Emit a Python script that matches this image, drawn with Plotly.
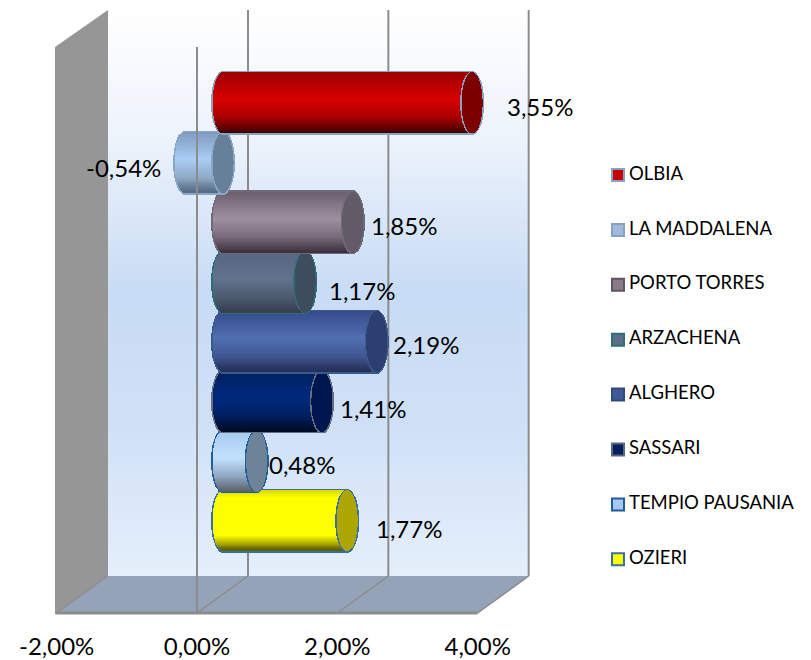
import numpy as np
import plotly.graph_objects as go

# ---------- data ----------
categories = ["OLBIA", "LA MADDALENA", "PORTO TORRES", "ARZACHENA",
              "ALGHERO", "SASSARI", "TEMPIO PAUSANIA", "OZIERI"]
values = [3.55, -0.54, 1.85, 1.17, 2.19, 1.41, 0.48, 1.77]
value_labels = ["3,55%", "-0,54%", "1,85%", "1,17%", "2,19%", "1,41%", "0,48%", "1,77%"]
axis_ticks = [-2, 0, 2, 4]
axis_tick_labels = ["-2,00%", "0,00%", "2,00%", "4,00%"]

# ---------- styles ----------
# gradient stops across each cylinder, top -> centre -> lower -> bottom
body_top = ["#9c0000", "#7f9cc0", "#6c6070", "#566680", "#364c8c", "#01215f", "#a4caf2", "#d8d800"]
body_mid = ["#da0000", "#a9cdf4", "#9f8fa0", "#62738f", "#5170b2", "#002a7e", "#c2e2ff", "#ffff00"]
body_low = ["#a80000", "#8fabc8", "#7a6c7c", "#4e5c72", "#3f5791", "#001f60", "#94aac4", "#ffff00"]
body_bot = ["#3c0000", "#566a84", "#3c323e", "#353f4e", "#252f58", "#000a26", "#5a6470", "#5c5c00"]
cap_fill = ["#7c0000", "#66809a", "#625a66", "#3d4d5e", "#2d3f70", "#001650", "#6e8298", "#aca600"]
edge_col = ["#8aa2c2", "#8aa6c6", "#6f6a78", "#2f7077", "#3b5a8c", "#666f80", "#1f5f9f", "#3a6da0"]
leg_fill = ["#c40000", "#9dbbdc", "#8a7a8a", "#5d6d8c", "#3f5a9c", "#00205f", "#a6c8ec", "#ffff00"]
leg_edge = ["#8aa0c0", "#8aa0bf", "#5f5560", "#2f6f76", "#304a7a", "#5a6678", "#1f5c9c", "#3b6ea5"]
label_dx = [68, -62, 51, 57, 49, 51, 45, 62]
label_dy = [-3, -5, -3, -8, -3, -7, -3, -8]
wall_stops = [(10, "#ffffff"), (130, "#eef4fc"), (290, "#c8dcf5"), (420, "#d0e1f7"), (576, "#e6f0fc")]

# ---------- geometry ----------
W, H = 811, 660
AXIS_Y = 614
X0, SCALE = 197.0, 70.17     # pixel of 0 %, pixels per 1 %
BAR_SHIFT = 26               # depth position of cylinders
BACK_DX, BACK_Y, TOP_F, TOP_B = 51, 576, 47, 10
FIRST_Y, PITCH = 103, 59.7
HALF_H = 30 / PITCH
RX = 10.5 / SCALE
EDGE = 1.5
FONT = "Lato"


def hex2rgb(c):
    return np.array([int(c[i:i + 2], 16) for i in (1, 3, 5)], float)


def mix(stops, pos):
    for (p0, c0), (p1, c1) in zip(stops[:-1], stops[1:]):
        if pos <= p1:
            f = (pos - p0) / (p1 - p0)
            r = hex2rgb(c0) * (1 - f) + hex2rgb(c1) * f
            return "rgb(%d,%d,%d)" % tuple(r)
    return stops[-1][1]


def px(x):
    return x / W


def py(y):
    return (AXIS_Y - y) / AXIS_Y


def poly(points, fill):
    d = "M" + " L".join(f"{px(a):.5f},{py(b):.5f}" for a, b in points) + " Z"
    return dict(type="path", path=d, xref="paper", yref="paper", fillcolor=fill,
                line=dict(width=0), layer="below")


GRID = "#8c8c8c"
shapes = []
# back wall gradient
ys = np.arange(TOP_B, BACK_Y, 6)
for y in ys:
    shapes.append(dict(type="rect", xref="paper", yref="paper", x0=px(108), x1=px(529),
                       y0=py(y), y1=py(min(y + 7, BACK_Y)),
                       fillcolor=mix(wall_stops, y), line=dict(width=0), layer="below"))
# left wall and floor
shapes.append(poly([(55, TOP_F), (108, TOP_B), (108, BACK_Y), (55, 614)], "#969696"))
shapes.append(poly([(57, 613), (108, BACK_Y), (529, BACK_Y), (478, 613)], "#94a3b8"))
# back gridlines + floor diagonals, tied to axis ticks
for t in axis_ticks:
    xb = t + BACK_DX / SCALE
    if t > -2:
        shapes.append(dict(type="line", xref="x", yref="paper", x0=xb, x1=xb,
                           y0=py(TOP_B), y1=py(BACK_Y), line=dict(color=GRID, width=2),
                           layer="below"))
    shapes.append(dict(type="line", xref="x", yref="paper", x0=t, x1=xb,
                       y0=py(613), y1=py(BACK_Y), line=dict(color=GRID, width=1.5),
                       layer="below"))
# front floor edge
shapes.append(dict(type="line", xref="x", yref="paper", x0=-2.02, x1=4, y0=py(613), y1=py(613),
                   line=dict(color=GRID, width=3), layer="below"))
# front zero line drawn above the cylinders
shapes.append(dict(type="line", xref="x", yref="paper", x0=0, x1=0, y0=py(TOP_F), y1=py(613),
                   line=dict(color=GRID, width=2), layer="above"))

fig = go.Figure()

N = 62
ts = (np.arange(N) + 0.5) / N * 2 - 1
slice_w = 2 * HALF_H / N * 1.12
edge_y = EDGE / PITCH
edge_x = EDGE / SCALE

# cylinders: upper ones overlap lower ones, so draw from last to first
for i in reversed(range(len(values))):
    v = values[i]
    lo, hi = min(0, v), max(0, v)
    stops = [(-1.0, body_top[i]), (-0.1, body_mid[i]), (0.5, body_low[i]), (1.0, body_bot[i])]
    if categories[i] == "OZIERI":
        stops = [(-1.0, body_top[i]), (-0.75, body_mid[i]), (0.5, body_low[i]), (1.0, body_bot[i])]
    xs, bs, yy, ww, cc = [], [], [], [], []

    # silhouette in edge colour
    Ne = N + 4
    te = (np.arange(Ne) + 0.5) / Ne * 2 - 1
    he = HALF_H + edge_y
    sw = 2 * he / Ne * 1.12
    for t in te:
        e = (RX + edge_x) * np.sqrt(1 - t * t)
        bs.append(lo - e); xs.append(hi - lo + 2 * e)
        yy.append(i + t * he); ww.append(sw); cc.append(edge_col[i])
    # body
    for t in ts:
        e = RX * np.sqrt(1 - t * t)
        bs.append(lo - e); xs.append(hi - lo)
        yy.append(i + t * HALF_H); ww.append(slice_w); cc.append(mix(stops, t))
    # ring and cap at the far end
    for t in te:
        e = (RX + edge_x) * np.sqrt(1 - t * t)
        bs.append(hi - e); xs.append(2 * e)
        yy.append(i + t * he); ww.append(sw); cc.append(edge_col[i])
    for t in ts:
        e = RX * np.sqrt(1 - t * t)
        bs.append(hi - e); xs.append(2 * e)
        yy.append(i + t * HALF_H); ww.append(slice_w); cc.append(cap_fill[i])

    fig.add_trace(go.Bar(orientation="h", x=xs, base=bs, y=yy, width=ww,
                         marker=dict(color=cc, line=dict(width=0)),
                         name=categories[i], showlegend=False, hoverinfo="skip",
                         xaxis="x2", yaxis="y"))

# value labels
annotations = []
for i, (v, lab) in enumerate(zip(values, value_labels)):
    annotations.append(dict(x=v, y=i, xref="x2", yref="y", text=lab, showarrow=False,
                            xshift=label_dx[i], yshift=label_dy[i], xanchor="center",
                            yanchor="middle", font=dict(family=FONT, size=24, color="#000000")))

# legend built as a small marker series with a separate text column
rows = list(range(len(categories)))
fig.add_trace(go.Scatter(x=[618] * len(categories), y=rows, mode="markers",
                         marker=dict(symbol="square", size=12, color=leg_fill,
                                     line=dict(color=leg_edge, width=2)),
                         showlegend=False, hoverinfo="skip", xaxis="x3", yaxis="y2"))
fig.add_trace(go.Scatter(x=[629] * len(categories), y=rows, mode="text", text=categories,
                         textposition="middle right",
                         textfont=dict(family=FONT, size=18.5, color="#000000"),
                         showlegend=False, hoverinfo="skip", xaxis="x3", yaxis="y2"))

x_range = [-X0 / SCALE, (W - X0) / SCALE]
fig.update_layout(
    width=W, height=H, autosize=False,
    margin=dict(l=0, r=0, t=0, b=H - AXIS_Y, pad=0),
    paper_bgcolor="#ffffff", plot_bgcolor="rgba(0,0,0,0)",
    barmode="overlay", bargap=0, showlegend=False,
    shapes=shapes, annotations=annotations,
    xaxis=dict(range=x_range, tickvals=axis_ticks, ticktext=axis_tick_labels,
               showgrid=False, zeroline=False, showline=False, automargin=False,
               ticks="outside", ticklen=11, tickcolor="rgba(0,0,0,0)",
               tickfont=dict(family=FONT, size=24, color="#000000")),
    xaxis2=dict(range=[x_range[0] - BAR_SHIFT / SCALE, x_range[1] - BAR_SHIFT / SCALE],
                overlaying="x", visible=False, showgrid=False, zeroline=False, automargin=False),
    xaxis3=dict(range=[0, W], overlaying="x", visible=False, showgrid=False, zeroline=False,
                automargin=False),
    yaxis=dict(range=[(AXIS_Y - FIRST_Y) / PITCH, -FIRST_Y / PITCH], visible=False,
               showgrid=False, zeroline=False, automargin=False),
    yaxis2=dict(range=[(AXIS_Y - 175) / 54.9, -175 / 54.9], overlaying="y", visible=False,
                showgrid=False, zeroline=False, automargin=False),
    font=dict(family=FONT),
)

fig.write_html("out.html", config=dict(displayModeBar=False),
               post_script="document.body.style.margin='0';document.body.style.overflow='hidden';")
